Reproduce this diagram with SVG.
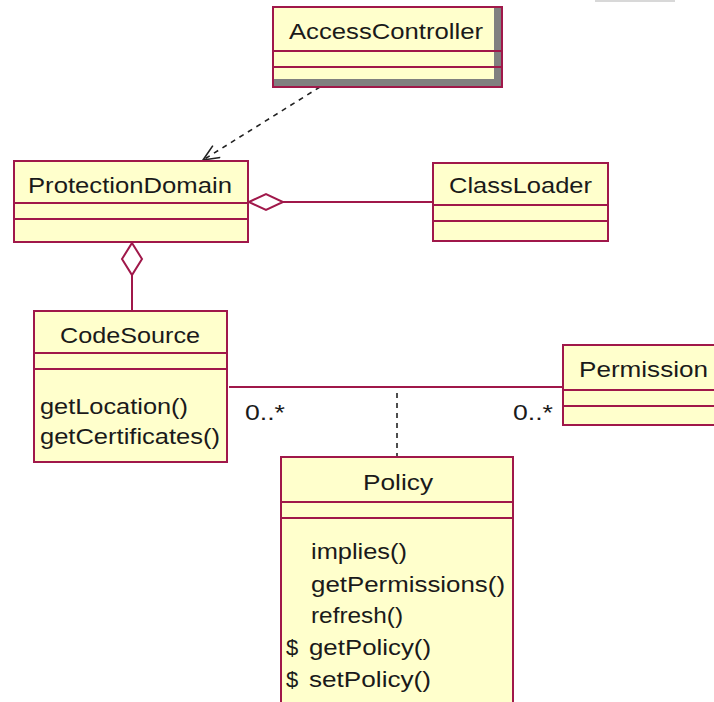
<svg xmlns="http://www.w3.org/2000/svg" width="714" height="702" viewBox="0 0 714 702">
<defs>
<style>
.box{fill:#FFFFCC;stroke:#A0184A;stroke-width:2}
.div{stroke:#A0184A;stroke-width:2;fill:none}
.t{font-family:"Liberation Sans",Arial,sans-serif;font-size:22px;fill:#1a1a1a}
.assoc{stroke:#A0184A;stroke-width:2;fill:none}
.dash{stroke:#222;stroke-width:1.6;fill:none;stroke-dasharray:5,5}
</style>
<marker id="open" markerWidth="20" markerHeight="16" refX="18" refY="8" orient="auto" markerUnits="userSpaceOnUse">
<path d="M2,1 L18,8 L2,15" fill="none" stroke="#222" stroke-width="1.6"/>
</marker>
</defs>
<rect width="714" height="702" fill="#fff"/>
<rect x="595" y="0" width="80" height="2" fill="#d8d8d8"/>

<g id="connectors">
<path class="dash" d="M320,87 L203,160" marker-end="url(#open)"/>
<path class="assoc" d="M283,202 L433,202"/>
<path class="box" d="M249,202 L266,194 L283,202 L266,210 Z" style="fill:#fff"/>
<path class="assoc" d="M132,275 L132,311"/>
<path class="box" d="M132,243 L142,259 L132,275 L122,259 Z" style="fill:#fff"/>
<path class="assoc" d="M229,387 L563,387"/>
<path class="dash" d="M397,393 L397,457"/>
<text class="t" x="245" y="420" textLength="40" lengthAdjust="spacingAndGlyphs">0..*</text>
<text class="t" x="513" y="420" textLength="40" lengthAdjust="spacingAndGlyphs">0..*</text>
</g>

<g id="AccessController">
<rect class="box" x="273" y="7" width="229" height="80"/>
<rect x="494" y="8" width="7" height="78" fill="#808080"/>
<rect x="274" y="79" width="227" height="7" fill="#808080"/>
<line class="div" x1="273" y1="51" x2="502" y2="51"/>
<line class="div" x1="273" y1="67" x2="502" y2="67"/>
<text class="t" x="289" y="39" textLength="194" lengthAdjust="spacingAndGlyphs">AccessController</text>
</g>

<g id="ProtectionDomain">
<rect class="box" x="14" y="161" width="234" height="81"/>
<line class="div" x1="14" y1="203" x2="248" y2="203"/>
<line class="div" x1="14" y1="219" x2="248" y2="219"/>
<text class="t" x="28" y="193" textLength="204" lengthAdjust="spacingAndGlyphs">ProtectionDomain</text>
</g>

<g id="ClassLoader">
<rect class="box" x="433" y="163" width="175" height="78"/>
<line class="div" x1="433" y1="205" x2="608" y2="205"/>
<line class="div" x1="433" y1="221" x2="608" y2="221"/>
<text class="t" x="449" y="193" textLength="143" lengthAdjust="spacingAndGlyphs">ClassLoader</text>
</g>

<g id="CodeSource">
<rect class="box" x="34" y="311" width="193" height="151"/>
<line class="div" x1="34" y1="353" x2="227" y2="353"/>
<line class="div" x1="34" y1="369" x2="227" y2="369"/>
<text class="t" x="60" y="343" textLength="140" lengthAdjust="spacingAndGlyphs">CodeSource</text>
<text class="t" x="40" y="414" textLength="148" lengthAdjust="spacingAndGlyphs">getLocation()</text>
<text class="t" x="40" y="444" textLength="180" lengthAdjust="spacingAndGlyphs">getCertificates()</text>
</g>

<g id="Permission">
<rect class="box" x="563" y="345" width="160" height="80"/>
<line class="div" x1="563" y1="390" x2="714" y2="390"/>
<line class="div" x1="563" y1="406" x2="714" y2="406"/>
<text class="t" x="579" y="377" textLength="129" lengthAdjust="spacingAndGlyphs">Permission</text>
</g>

<g id="Policy">
<rect class="box" x="281" y="457" width="232" height="260"/>
<line class="div" x1="281" y1="502" x2="513" y2="502"/>
<line class="div" x1="281" y1="518" x2="513" y2="518"/>
<text class="t" x="363" y="490" textLength="70" lengthAdjust="spacingAndGlyphs">Policy</text>
<text class="t" x="311" y="559" textLength="96" lengthAdjust="spacingAndGlyphs">implies()</text>
<text class="t" x="311" y="592" textLength="194" lengthAdjust="spacingAndGlyphs">getPermissions()</text>
<text class="t" x="311" y="623" textLength="92" lengthAdjust="spacingAndGlyphs">refresh()</text>
<text class="t" x="286" y="655">$</text>
<text class="t" x="309" y="655" textLength="122" lengthAdjust="spacingAndGlyphs">getPolicy()</text>
<text class="t" x="286" y="687">$</text>
<text class="t" x="309" y="687" textLength="122" lengthAdjust="spacingAndGlyphs">setPolicy()</text>
</g>
</svg>
